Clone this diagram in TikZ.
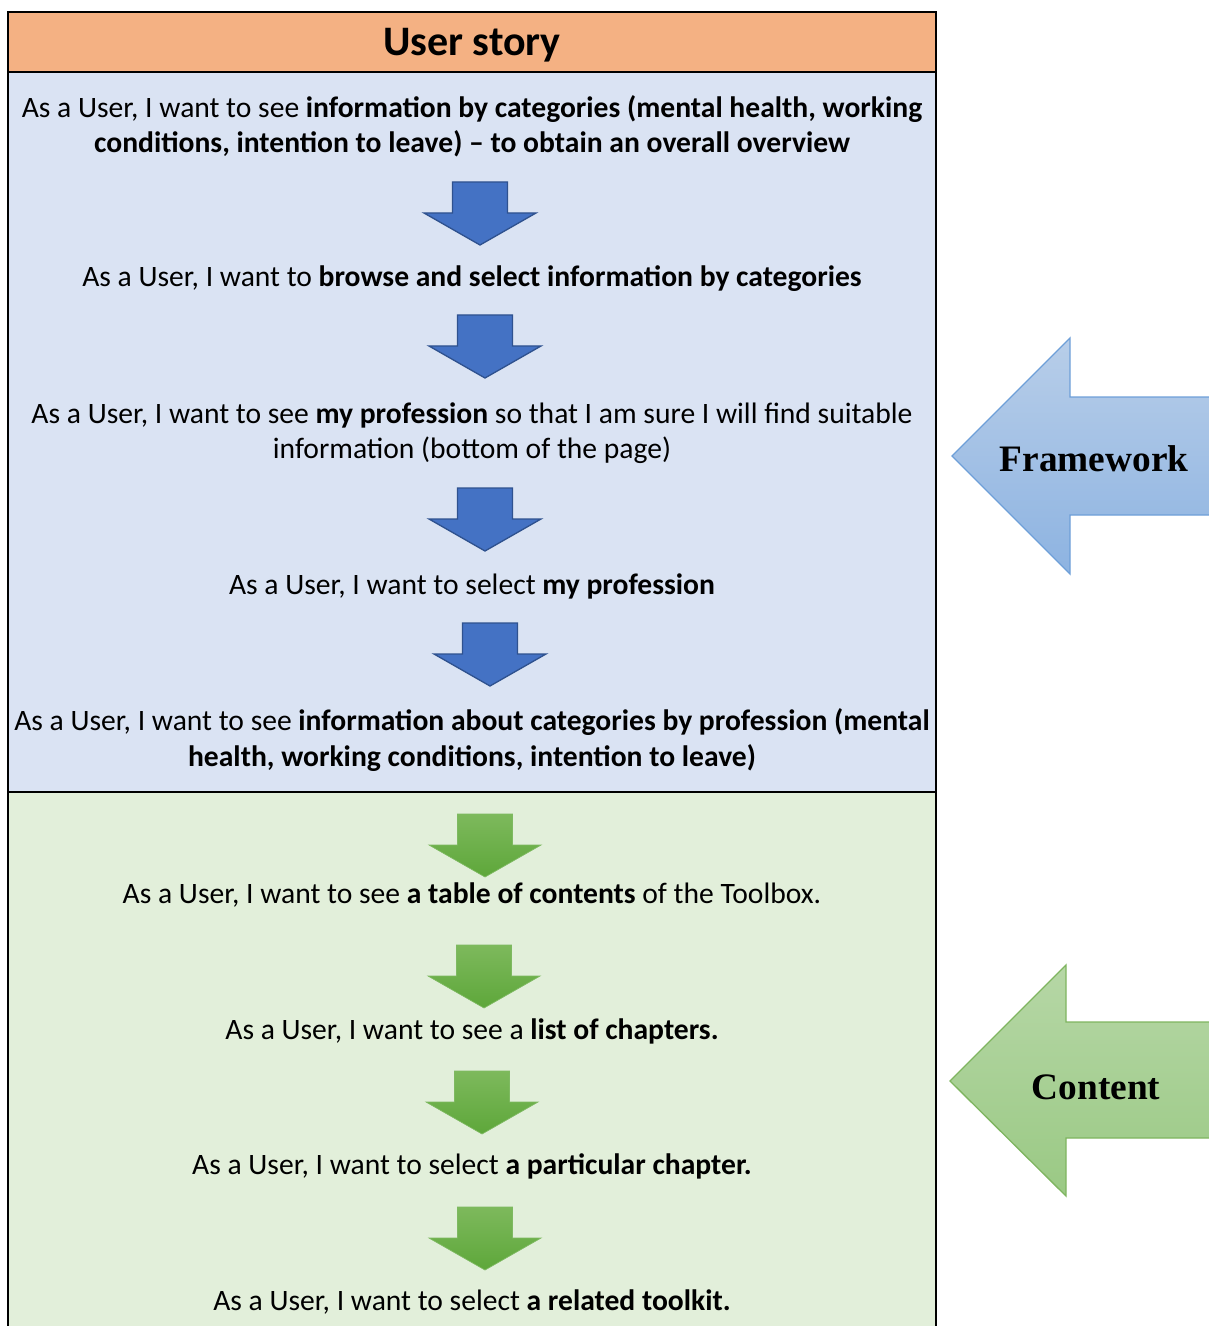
\documentclass[tikz,border=0pt]{standalone}
\usepackage{fontspec}
\setmainfont{Carlito}
\newfontfamily\serifbold{Liberation Serif}
\usetikzlibrary{positioning}

\definecolor{headorange}{HTML}{F4B183}
\definecolor{paneblue}{HTML}{DAE3F3}
\definecolor{panegreen}{HTML}{E2EFDA}
\definecolor{arrowblue}{HTML}{4472C4}
\definecolor{edgeblue}{HTML}{2F528F}
\definecolor{greentop}{HTML}{7DB95C}
\definecolor{greenbot}{HTML}{5EA73A}
\definecolor{fwtop}{HTML}{B8CEE9}
\definecolor{fwbot}{HTML}{8DB3E1}
\definecolor{fwedge}{HTML}{6E9FD8}
\definecolor{cttop}{HTML}{B6D7A6}
\definecolor{ctbot}{HTML}{9AC984}
\definecolor{ctedge}{HTML}{7FB560}

\tikzset{
    story/.style={align=center, font=\fontsize{22.2}{26.6}\selectfont, inner sep=0pt},
    pane/.style={draw=black, line width=1.5pt},
    bluedown/.style={draw=edgeblue, line width=1pt, fill=arrowblue, line join=miter},
    greendown/.style={top color=greentop, bottom color=greenbot, draw=greenbot!80, line width=0.5pt},
    sidelabel/.style={font=\serifbold\bfseries\fontsize{28}{32}\selectfont},
    pics/blockdown/.style={code={
        \draw [#1] (-27.5,0) -- (27.5,0) -- (27.5,31) -- (56,31) -- (0,63)
            -- (-56,31) -- (-27.5,31) -- cycle;
    }}
}

\begin{document}
\begin{tikzpicture}[x=0.75pt, y=-0.75pt]
    \useasboundingbox (0,0) rectangle (1208,1326);
    % panes
    \fill [panegreen] (8,792) rectangle (936,1340);
    \fill [paneblue] (8,72) rectangle (936,792);
    \fill [headorange] (8,12) rectangle (936,72);
    \draw [pane] (8,1340) -- (8,12) -- (936,12) -- (936,1340);
    \draw [pane] (8,72) -- (936,72);
    \draw [pane] (8,792) -- (936,792);
    \node (head) at (472,45) [font=\bfseries\fontsize{31.5}{36}\selectfont] {User story};
    % framework stories
    \node (t1) at (472,126) [story] {As a User, I want to see \textbf{information by categories (mental health, working}\\\textbf{conditions, intention to leave) -- to obtain an overall overview}};
    \pic at (480,182) {blockdown=bluedown};
    \node (t2) at (472,279) [story] {As a User, I want to \textbf{browse and select information by categories}};
    \pic at (485,315) {blockdown=bluedown};
    \node (t3) at (472,433) [story] {As a User, I want to see \textbf{my profession} so that I am sure I will find suitable\\information (bottom of the page)};
    \pic at (485,488) {blockdown=bluedown};
    \node (t4) at (472,586) [story] {As a User, I want to select \textbf{my profession}};
    \pic at (490,623) {blockdown=bluedown};
    \node (t5) at (472,740) [story] {As a User, I want to see \textbf{information about categories by profession (mental}\\\textbf{health, working conditions, intention to leave)}};
    % content stories
    \pic at (485,814) {blockdown=greendown};
    \node (t6) at (472,895) [story] {As a User, I want to see \textbf{a table of contents} of the Toolbox.};
    \pic at (484,945) {blockdown=greendown};
    \node (t7) at (472,1031) [story] {As a User, I want to see a \textbf{list of chapters.}};
    \pic at (482,1071) {blockdown=greendown};
    \node (t8) at (472,1166) [story] {As a User, I want to select \textbf{a particular chapter.}};
    \pic at (485,1207) {blockdown=greendown};
    \node (t9) at (472,1302) [story] {As a User, I want to select \textbf{a related toolkit.}};
    % side arrows
    \draw [top color=fwtop, bottom color=fwbot, draw=fwedge, line width=1pt]
        (952,456) -- (1070,338) -- (1070,397) -- (1212,397) -- (1212,515)
        -- (1070,515) -- (1070,574) -- cycle;
    \node (fw) at (1094,459) [sidelabel] {Framework};
    \draw [top color=cttop, bottom color=ctbot, draw=ctedge, line width=1pt]
        (950,1081) -- (1066,965) -- (1066,1022) -- (1212,1022) -- (1212,1138)
        -- (1066,1138) -- (1066,1196) -- cycle;
    \node (ct) at (1096,1087) [sidelabel] {Content};
\end{tikzpicture}
\end{document}
